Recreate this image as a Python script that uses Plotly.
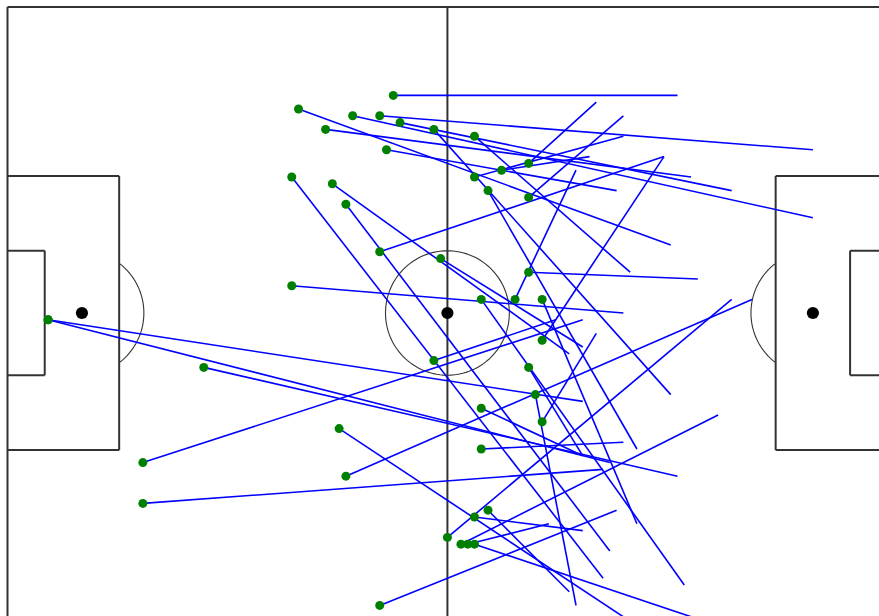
import numpy as np
import plotly.graph_objects as go

# Pass data (metres, pitch 130 x 90, y measured from top touchline)
start_x = [57, 43, 51, 55, 58, 47, 63, 56, 69, 42, 48, 50, 73, 77, 69, 71, 77,
           55, 64, 42, 77, 70, 75, 79, 79, 77, 6, 6, 29, 20, 20, 63, 70, 49, 70,
           50, 78, 79, 71, 69, 65, 67, 68, 69, 55]
start_y = [13, 15, 16, 16, 17, 18, 18, 21, 19, 25, 26, 29, 24, 23, 25, 27, 28,
           36, 37, 41, 39, 43, 43, 43, 49, 53, 46, 46, 53, 67, 73, 52, 59, 62, 65,
           69, 57, 61, 74, 75, 78, 79, 79, 79, 88]
end_x = [99, 98, 119, 119, 107, 101, 98, 90, 92, 88, 83, 89, 86, 87, 91, 93, 91,
         97, 85, 91, 102, 100, 84, 93, 97, 85, 85, 89, 99, 85, 88, 81, 85, 93, 91,
         110, 84, 87, 83, 85, 107, 105, 80, 102, 90]
end_y = [13, 35, 31, 21, 27, 25, 57, 27, 39, 84, 51, 80, 22, 14, 19, 65, 16,
         22, 50, 45, 40, 85, 24, 76, 22, 66, 58, 67, 69, 46, 68, 46, 66, 91, 64,
         43, 88, 48, 86, 77, 43, 60, 76, 90, 74]

L, W = 130, 90
line_col = "#333333"

fig = go.Figure()

# passes
lx, ly = [], []
for sx, sy, ex, ey in zip(start_x, start_y, end_x, end_y):
    lx += [sx, ex, None]
    ly += [sy, ey, None]
fig.add_trace(go.Scatter(x=lx, y=ly, mode="lines",
                         line=dict(color="#0000ff", width=1.6),
                         hoverinfo="skip", showlegend=False))
fig.add_trace(go.Scatter(x=start_x, y=start_y, mode="markers",
                         marker=dict(color="#008000", size=9, line=dict(width=0)),
                         showlegend=False))

shapes = []
def seg(x0, y0, x1, y1, w=2):
    shapes.append(dict(type="line", x0=x0, y0=y0, x1=x1, y1=y1,
                       line=dict(color=line_col, width=w), layer="below"))

# outline & halfway
seg(0, 0, L, 0); seg(0, W, L, W); seg(0, 0, 0, W); seg(L, 0, L, W)
seg(L / 2, 0, L / 2, W)
# penalty areas
for x_goal, x_box, x_six in [(0, 16.5, 5.5), (L, L - 16.5, L - 5.5)]:
    seg(x_box, W / 2 - 20.15, x_box, W / 2 + 20.15)
    seg(x_goal, W / 2 - 20.15, x_box, W / 2 - 20.15)
    seg(x_goal, W / 2 + 20.15, x_box, W / 2 + 20.15)
    seg(x_six, W / 2 - 9.16, x_six, W / 2 + 9.16)
    seg(x_goal, W / 2 - 9.16, x_six, W / 2 - 9.16)
    seg(x_goal, W / 2 + 9.16, x_six, W / 2 + 9.16)

def arc_path(cx, cy, r, a0, a1, n=60):
    t = np.radians(np.linspace(a0, a1, n))
    pts = [f"{cx + r*np.cos(a):.3f},{cy + r*np.sin(a):.3f}" for a in t]
    return "M " + " L ".join(pts)

shapes.append(dict(type="path", path=arc_path(L / 2, W / 2, 9.15, 0, 360, 120),
                   line=dict(color=line_col, width=1.1), layer="below"))
shapes.append(dict(type="path", path=arc_path(11, W / 2, 9.15, -52, 52),
                   line=dict(color=line_col, width=1.1), layer="below"))
shapes.append(dict(type="path", path=arc_path(L - 11, W / 2, 9.15, 128, 232),
                   line=dict(color=line_col, width=1.1), layer="below"))
for cx in [11, L / 2, L - 11]:
    shapes.append(dict(type="circle", x0=cx - 0.9, x1=cx + 0.9, y0=W / 2 - 0.9,
                       y1=W / 2 + 0.9, fillcolor="black", line=dict(width=0),
                       layer="above"))

fig.update_layout(
    width=879, height=616,
    margin=dict(l=0, r=0, t=0, b=0),
    paper_bgcolor="white", plot_bgcolor="white",
    shapes=shapes,
    xaxis=dict(range=[-1.108, 128.77], visible=False, showgrid=False, zeroline=False),
    yaxis=dict(range=[89.56, -1.03], visible=False, showgrid=False, zeroline=False),
    showlegend=False,
)
fig.write_html("out.html",
               config={"displayModeBar": False},
               post_script="document.body.style.margin='0';"
                           "document.body.style.overflow='hidden';")
